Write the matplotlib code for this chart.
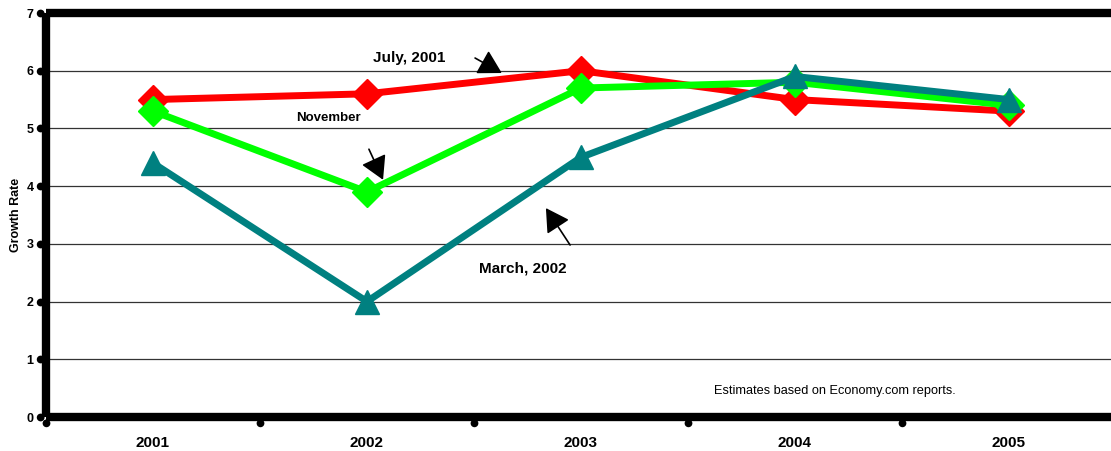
import matplotlib
matplotlib.use('Agg')
import matplotlib.pyplot as plt
from matplotlib.path import Path
import numpy as np

plt.rcParams['font.family'] = ['Liberation Sans', 'DejaVu Sans']

# data
years = ['2001', '2002', '2003', '2004', '2005']
july_2001 = [5.5, 5.6, 6.0, 5.5, 5.3]
november = [5.3, 3.9, 5.7, 5.8, 5.4]
march_2002 = [4.4, 2.0, 4.5, 5.9, 5.5]
y_ticks = [0, 1, 2, 3, 4, 5, 6, 7]

x = np.arange(len(years))

fig = plt.figure(figsize=(11.11, 4.51), dpi=100)
ax = fig.add_axes([46 / 1111, 34 / 451, 1070 / 1111, 404 / 451])

ax.plot(x, july_2001, color='#ff0000', lw=5, marker='D', ms=15, zorder=3)
ax.plot(x, november, color='#00ff00', lw=5, marker='D', ms=15, zorder=4)
ax.plot(x, march_2002, color='#008080', lw=5, marker='^', ms=17, zorder=5)

ax.set_xlim(-0.5, 4.5)
ax.set_ylim(0, 7)

# grid
ax.set_yticks(y_ticks)
ax.yaxis.grid(True, color='#333333', lw=0.9)
ax.set_axisbelow(True)

# bordes gruesos
for sp in ax.spines.values():
    sp.set_linewidth(6)
    sp.set_capstyle('butt')

# puntos de los ticks, desplazados fuera del borde
def dot_marker(dx, dy):
    c = Path.circle((dx, dy), 0.4)
    # punto invisible opuesto para fijar la escala
    return Path(np.vstack([c.vertices, [[-dx, -dy]]]),
                np.concatenate([c.codes, [Path.MOVETO]]))

def style_ticks(ticks, marker):
    for t in ticks:
        t.tick1line.set_marker(marker)
        t.tick1line.set_markersize(14)
        t.tick1line.set_markerfacecolor('black')
        t.tick1line.set_markeredgecolor('black')
        t.tick1line.set_markeredgewidth(0)

# x: separadores como ticks mayores, etiquetas en menores
ax.set_xticks(np.arange(len(years) + 1) - 0.5)
ax.set_xticklabels([])
ax.set_xticks(x, minor=True)
ax.set_xticklabels(years, minor=True, fontsize=11, fontweight='bold')
ax.tick_params(axis='x', which='minor', length=0, pad=14)
ax.tick_params(axis='x', which='major', length=0)
style_ticks(ax.xaxis.get_major_ticks(), dot_marker(0, -0.6))

ax.set_yticklabels([str(v) for v in y_ticks], fontsize=9, fontweight='bold')
ax.tick_params(axis='y', length=0, pad=9)
style_ticks(ax.yaxis.get_major_ticks(), dot_marker(-0.6, 0))

ax.set_ylabel('Growth Rate', fontsize=9, fontweight='bold', labelpad=3)

# anotaciones
arrow = dict(arrowstyle='-|>,head_length=0.42,head_width=0.24', mutation_scale=34,
             lw=1.2, color='black', shrinkA=0, shrinkB=0)
ax.text(1.196, 6.22, 'July, 2001', fontsize=11, fontweight='bold', ha='center', va='center')
ax.annotate('', xy=(1.63, 5.96), xytext=(1.505, 6.22), arrowprops=arrow)
ax.text(0.822, 5.18, 'November', fontsize=9.5, fontweight='bold', ha='center', va='center')
ax.annotate('', xy=(1.075, 4.11), xytext=(1.009, 4.64), arrowprops=arrow)
ax.text(1.729, 2.58, 'March, 2002', fontsize=11, fontweight='bold', ha='center', va='center')
ax.annotate('', xy=(1.836, 3.62), xytext=(1.949, 2.98), arrowprops=arrow)
ax.text(3.187, 0.45, 'Estimates based on Economy.com reports.', fontsize=9.2,
        ha='center', va='center')

plt.savefig('out.png', dpi=100)
